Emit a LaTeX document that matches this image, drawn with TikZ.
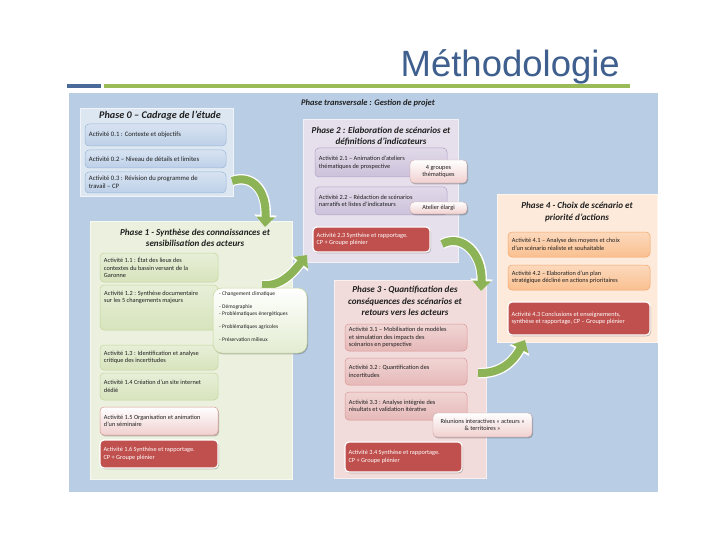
\documentclass[tikz,border=0pt]{standalone}
\usepackage{fontspec}
\setmainfont{Carlito}
\newfontfamily\titlefont{Liberation Sans}
\usetikzlibrary{shadows,arrows.meta}
\definecolor{bgblue}{HTML}{B9CDE5}
\definecolor{titleblue}{HTML}{3F5F8E}
\definecolor{barblue}{HTML}{4A6A9A}
\definecolor{bargreen}{HTML}{9BBB59}
\definecolor{pzpan}{HTML}{DDE7F2}
\definecolor{pzact}{HTML}{BDD0E8}
\definecolor{pzline}{HTML}{9DB7D8}
\definecolor{ponepan}{HTML}{EBF1DE}
\definecolor{poneact}{HTML}{D7E4BD}
\definecolor{poneline}{HTML}{C3D69B}
\definecolor{ptwopan}{HTML}{E6E0EC}
\definecolor{ptwoact}{HTML}{CCC1DA}
\definecolor{ptwoline}{HTML}{B3A2C7}
\definecolor{pthreepan}{HTML}{F2DCDB}
\definecolor{pthreeact}{HTML}{E6B9B8}
\definecolor{pthreeline}{HTML}{D99694}
\definecolor{pfourpan}{HTML}{FDEADA}
\definecolor{pfouract}{HTML}{FAC090}
\definecolor{pfourline}{HTML}{F3A46A}
\definecolor{redbox}{HTML}{C0504D}
\definecolor{arrowgreen}{HTML}{8CB356}
\definecolor{calpink}{HTML}{F0D0CF}
\definecolor{calline}{HTML}{C9A3A2}
\definecolor{txt}{HTML}{1F1F1F}

\tikzset{
  panelbase/.style={rectangle, inner sep=0pt, line width=1pt},
  actbase/.style={rectangle, rounded corners=4pt, inner sep=0pt, line width=0.5pt},
  pzbox/.style={actbase, draw=pzline, top color=pzact!60!white, bottom color=pzact},
  ponebox/.style={actbase, draw=poneline, top color=poneact!60!white, bottom color=poneact},
  ptwobox/.style={actbase, draw=ptwoline, top color=ptwoact!60!white, bottom color=ptwoact},
  pthreebox/.style={actbase, draw=pthreeline, top color=pthreeact!60!white, bottom color=pthreeact},
  pfourbox/.style={actbase, draw=pfourline, top color=pfouract!60!white, bottom color=pfouract},
  softshadow/.style={drop shadow={shadow xshift=1pt, shadow yshift=-1.3pt, opacity=0.35, fill=black!70}},
  redact/.style={actbase, fill=redbox, draw=white, line width=1.2pt, softshadow},
  callout/.style={actbase, draw=calline, line width=0.4pt, top color=white, bottom color=calpink, softshadow},
  pinkact/.style={actbase, draw=pthreeline, line width=0.5pt, top color=white, bottom color=calpink, softshadow},
  listcallout/.style={actbase, rounded corners=9pt, draw=poneline, line width=0.5pt, top color=white, bottom color=poneact!70!white, softshadow},
  acttext/.style={font=\fontsize{6.3}{7.6}\selectfont, align=left, inner sep=0pt, text=txt},
  pztext/.style={acttext, font=\fontsize{6.7}{8}\selectfont},
  redtext/.style={acttext, text=white},
  caltext/.style={acttext, align=center},
  phasetitle/.style={font=\bfseries\itshape\fontsize{9.1}{11.2}\selectfont, align=center, inner sep=0pt, text=txt},
  blockarrow/.style={line width=8pt, draw=arrowgreen, -{Triangle[length=10pt,width=18pt]},
    preaction={draw=white, line width=10.5pt, -{Triangle[length=12pt,width=22pt]}}},
}

\newcommand\phasepanel[6]{%
  \node[panelbase, fill=#2, draw=#2!45!white, minimum width={#5pt-#3pt}, minimum height={#6pt-#4pt}] (#1) at ({(#3+#5)/2},{(#4+#6)/2}) {};}
\newcommand\actbox[8][acttext]{%
  \node[#3, minimum width={#6pt-#4pt}, minimum height={#7pt-#5pt}] (#2) at ({(#4+#6)/2},{(#5+#7)/2}) {};
  \node[#1, anchor=west] (#2-t) at ([xshift=4pt]#2.west) {#8};}
\newcommand\calbox[6]{%
  \node[callout, minimum width={#4pt-#2pt}, minimum height={#5pt-#3pt}] (#1) at ({(#2+#4)/2},{(#3+#5)/2}) {};
  \node[caltext] (#1-t) at (#1.center) {#6};}

\begin{document}
\begin{tikzpicture}[x=1pt,y=-1pt]
\useasboundingbox (0,0) rectangle (720,540);
\fill[white] (0,0) rectangle (720,540);

% title and bars
\node[anchor=base east, inner sep=0pt, text=titleblue, font=\titlefont\fontsize{36.5}{40}\selectfont] (title) at (620,77) {Méthodologie};
\fill[barblue] (67,84) rectangle (101,88);
\fill[bargreen] (104,84) rectangle (630,88);

% background
\fill[bgblue] (69,93) rectangle (658,492);
\node[font=\bfseries\itshape\fontsize{8.5}{9}\selectfont, inner sep=0pt, text=txt] (ptrans) at (368,103) {Phase transversale : Gestion de projet};

% panels
\phasepanel{pz}{pzpan}{80}{109}{233}{197}
\phasepanel{ptwo}{ptwopan}{303}{120}{458}{262}
\phasepanel{pone}{ponepan}{90}{222}{292}{479}
\phasepanel{pthree}{pthreepan}{334}{280}{486}{478}
\phasepanel{pfour}{pfourpan}{497}{195}{657}{342}

% phase titles
\node[phasetitle, font=\bfseries\itshape\fontsize{10.2}{12}\selectfont] (pz-title) at (160,116) {Phase 0 – Cadrage de l'étude};
\node[phasetitle] (ptwo-title) at (381,136) {Phase 2 : Elaboration de scénarios et\\définitions d'indicateurs};
\node[phasetitle] (pone-title) at (195,238) {Phase 1 - Synthèse des connaissances et\\sensibilisation des acteurs};
\node[phasetitle] (pthree-title) at (405,301) {Phase 3 - Quantification des\\conséquences des scénarios et\\retours vers les acteurs};
\node[phasetitle] (pfour-title) at (577,212) {Phase 4 - Choix de scénario et\\priorité d'actions};

% arrows between phases
\coordinate (arA0) at (232,181);
\coordinate (arA1) at (265,227);
\draw[blockarrow] (arA0) .. controls (252,174) and (267,190) .. (arA1);
\coordinate (arC0) at (442,244);
\coordinate (arC1) at (481,291);
\draw[blockarrow] (arC0) .. controls (462,233) and (483,254) .. (arC1);
\coordinate (arD0) at (478,373);
\coordinate (arD1) at (525,340);
\draw[blockarrow] (arD0) .. controls (500,374) and (513,362) .. (arD1);

% phase 0
\actbox[pztext]{a01}{pzbox}{85}{124}{226}{146}{Activité 0.1 : Contexte et objectifs}
\actbox[pztext]{a02}{pzbox}{85}{150}{226}{168}{Activité 0.2 – Niveau de détails et limites}
\actbox[pztext]{a03}{pzbox}{85}{172}{226}{193}{Activité 0.3 : Révision du programme de\\travail – CP}

% phase 2
\actbox{a21}{ptwobox}{315}{148}{447}{177}{Activité 2.1 – Animation d'ateliers\\thématiques de prospective}
\actbox{a22}{ptwobox}{315}{187}{447}{215}{Activité 2.2 – Rédaction de scénarios\\narratifs et listes d'indicateurs}
\calbox{c1}{410}{160}{467}{183}{4 groupes\\thématiques}
\calbox{c2}{410}{202}{467}{214}{Atelier élargi}
\actbox[redtext]{a23}{redact}{313}{227}{430}{252}{Activité 2.3 Synthèse et rapportage.\\CP + Groupe plénier}

% phase 1
\actbox{a11}{ponebox}{100}{253}{218}{282}{Activité 1.1 : État des lieux des\\contextes du bassin versant de la\\Garonne}
\node[ponebox, minimum width=118pt, minimum height=45pt] (a12) at (159,307.5) {};
\node[acttext, anchor=north west] (a12-t) at (104,290.5) {Activité 1.2 : Synthèse documentaire\\sur les 5 changements majeurs};
\actbox{a13}{ponebox}{100}{345}{218}{370}{Activité 1.3 : Identification et analyse\\critique des incertitudes}
\actbox{a14}{ponebox}{100}{373}{218}{400}{Activité 1.4 Création d'un site internet\\dédié}
\actbox{a15}{pinkact}{100}{407}{218}{435}{Activité 1.5 Organisation et animation\\d'un séminaire}
\actbox[redtext]{a16}{redact}{100}{440}{218}{468}{Activité 1.6 Synthèse et rapportage.\\CP + Groupe plénier}

% arrow phase 1 -> phase 2
\coordinate (arB0) at (262,285);
\coordinate (arB1) at (307,255);
\draw[blockarrow] (arB0) .. controls (282,287) and (294,271) .. (arB1);

\node[listcallout, minimum width=94pt, minimum height=65pt] (lst) at (260,320.5) {};
\node[acttext, font=\fontsize{5.5}{6.5}\selectfont, anchor=north west] (lst-t) at (219,291)
  {- Changement climatique\\[7pt]- Démographie\\- Problématiques énergétiques\\[7pt]- Problématiques agricoles\\[6.5pt]- Préservation milieux};

% phase 3
\actbox{a31}{pthreebox}{345}{324}{467}{351}{Activité 3.1 – Mobilisation de modèles\\et simulation des impacts des\\scénarios en perspective}
\actbox{a32}{pthreebox}{345}{358}{467}{385}{Activité 3.2 : Quantification des\\incertitudes}
\actbox{a33}{pthreebox}{345}{392}{467}{420}{Activité 3.3 : Analyse intégrée des\\résultats et validation itérative}
\calbox{c3}{433}{413}{532}{437}{Réunions interactives « acteurs »\\\& territoires »}
\actbox[redtext]{a34}{redact}{345}{442}{462}{472}{Activité 3.4 Synthèse et rapportage.\\CP + Groupe plénier}

% phase 4
\actbox{a41}{pfourbox}{508}{232}{650}{257}{Activité 4.1 – Analyse des moyens et choix\\d'un scénario réaliste et souhaitable}
\actbox{a42}{pfourbox}{508}{265}{650}{290}{Activité 4.2 – Elaboration d'un plan\\stratégique décliné en actions prioritaires}
\actbox[redtext]{a43}{redact}{508}{302}{650}{335}{Activité 4.3 Conclusions et enseignements,\\synthèse et rapportage, CP – Groupe plénier}
\end{tikzpicture}
\end{document}
